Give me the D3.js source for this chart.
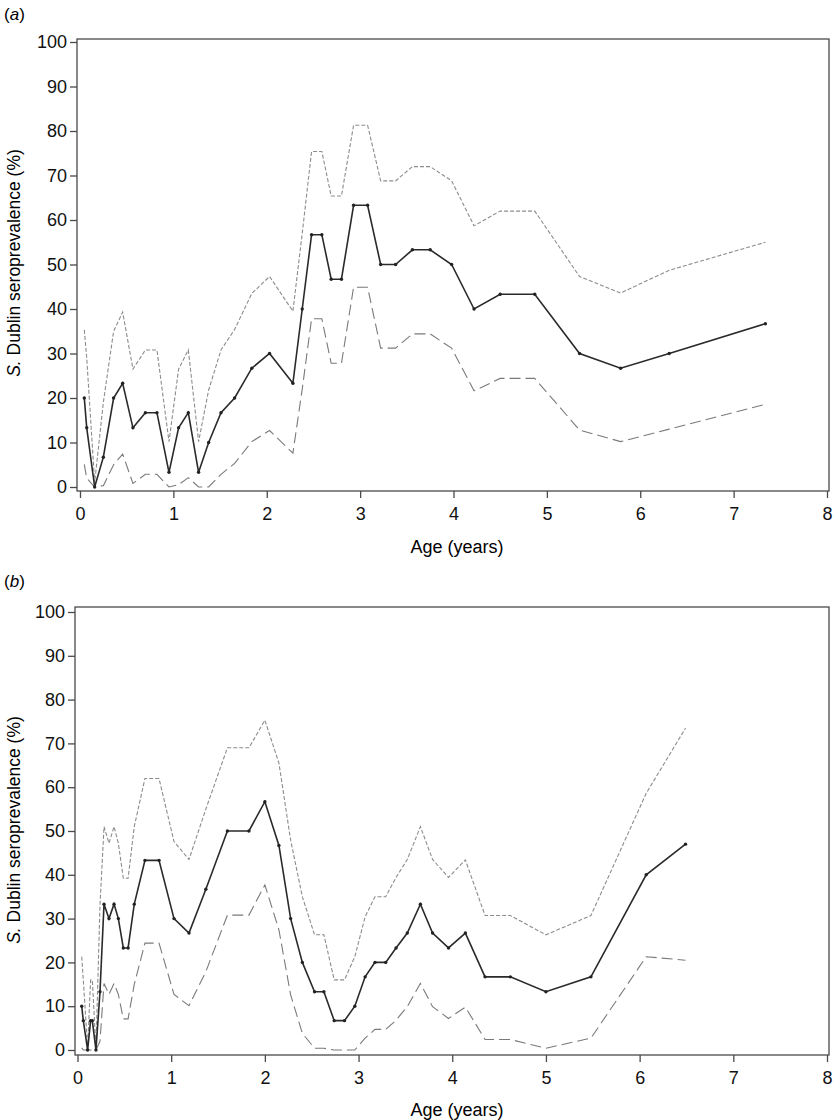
<!DOCTYPE html>
<html>
<head>
<meta charset="utf-8">
<script src="https://cdn.jsdelivr.net/npm/d3@7"></script>
<style>
  body { margin: 0; background: #fff; }
  svg { font-family: "Liberation Sans", Arial, sans-serif; }
</style>
</head>
<body>
<script>
// Panel (a) data
const agesA  = [0.046,0.072,0.157,0.25,0.36,0.457,0.567,0.70,0.824,0.953,1.056,1.16,1.27,1.378,1.51,1.656,1.84,2.03,2.28,2.38,2.48,2.59,2.69,2.80,2.93,3.08,3.22,3.38,3.56,3.75,3.98,4.22,4.50,4.87,5.35,5.79,6.31,7.34];
const prevA  = [20,13.3,0,6.7,20,23.3,13.3,16.7,16.7,3.3,13.3,16.7,3.3,10,16.7,20,26.7,30,23.3,40,56.7,56.7,46.7,46.7,63.3,63.3,50,50,53.3,53.3,50,40,43.3,43.3,30,26.7,30,36.7];
const upperA = [35.3,29,1,19,35,39.3,26.5,30.8,30.8,10.2,26.5,30.8,10.2,21.8,30.8,35.4,43.5,47.3,39.5,57,75.4,75.4,65.4,65.4,81.3,81.3,68.8,68.8,72,72,68.8,58.7,62,62,47.3,43.6,48.7,55];
const lowerA = [5.1,2,0,0.3,5,7.4,0.8,2.85,2.85,0,0.5,2.1,0,0,2.85,5.3,10.2,12.7,7.6,22,37.8,37.8,27.8,27.8,44.9,44.9,31.2,31.2,34.4,34.4,31.2,21.6,24.4,24.4,12.8,10.2,13,18.6];

// Panel (b) data
const agesB  = [0.045,0.062,0.108,0.14,0.158,0.197,0.24,0.283,0.336,0.39,0.436,0.489,0.54,0.606,0.72,0.87,1.03,1.19,1.37,1.60,1.83,2.00,2.15,2.275,2.40,2.53,2.63,2.74,2.85,2.96,3.07,3.175,3.29,3.40,3.52,3.66,3.79,3.96,4.14,4.35,4.62,5.00,5.48,6.07,6.49];
const prevB  = [10,6.7,0,6.7,6.7,0,13.3,33.3,30,33.3,30,23.3,23.3,33.3,43.3,43.3,30,26.7,36.7,50,50,56.7,46.7,30,20,13.3,13.3,6.7,6.7,10,16.7,20,20,23.3,26.7,33.3,26.7,23.3,26.7,16.7,16.7,13.3,16.7,40,47];
const upperB = [21.3,16,0.5,16,16,0.5,33,51,47.2,51,47.2,39.2,39.2,51,62,62,47.6,43.5,55,69,69,75.3,65.5,47.9,35,26.3,26.3,16,16,21.3,30.4,35,35,39.4,43.5,51,43.5,39.4,43.4,30.7,30.7,26.3,30.7,58.6,73.5];
const lowerB = [0.5,0,0,0,0,0,2,15.2,12.7,15.2,12.7,7.1,7.1,15,24.4,24.4,12.7,10.1,17.9,30.8,30.8,37.7,27.4,12.6,3.8,0.4,0.4,0,0,0,2.7,4.7,4.7,6.8,9.9,15.2,9.9,7.2,9.8,2.4,2.4,0.4,2.7,21.3,20.5];

const xTicks = [0,1,2,3,4,5,6,7,8];
const yTicks = [0,10,20,30,40,50,60,70,80,90,100];

const svg = d3.select("body").append("svg")
    .attr("width", 840)
    .attr("height", 1120);

function drawPanel(p) {
    const x = d3.scaleLinear().domain([0, 8]).range([p.x0, p.x8]);
    const y = d3.scaleLinear().domain([0, 100]).range([p.y0, p.y100]);

    // panel letter
    const lab = svg.append("text")
        .attr("x", 4).attr("y", p.labelY)
        .style("font-size", "17px");
    lab.append("tspan").text("(");
    lab.append("tspan").style("font-style", "italic").text(p.letter);
    lab.append("tspan").text(")");

    // frame
    svg.append("rect")
        .attr("x", p.left).attr("y", p.top)
        .attr("width", p.right - p.left).attr("height", p.bottom - p.top)
        .attr("fill", "none").attr("stroke", "#4a4a4a").attr("stroke-width", 1.3);

    // axes
    const yAxis = svg.append("g")
        .attr("transform", `translate(${p.left},0)`)
        .call(d3.axisLeft(y).tickValues(yTicks).tickSize(7).tickPadding(3));
    const xAxis = svg.append("g")
        .attr("transform", `translate(0,${p.bottom})`)
        .call(d3.axisBottom(x).tickValues(xTicks).tickSize(7).tickPadding(9));
    [xAxis, yAxis].forEach(a => {
        a.select(".domain").remove();
        a.selectAll("line").attr("stroke", "#4a4a4a").attr("stroke-width", 1.3);
        a.selectAll("text").style("font-size", "18px").style("font-family", "Liberation Sans, Arial, sans-serif").attr("fill", "#111");
    });

    // axis titles
    svg.append("text")
        .attr("x", 457).attr("y", p.xTitleY)
        .attr("text-anchor", "middle")
        .style("font-size", "18px")
        .text("Age (years)");

    const yt = svg.append("text")
        .attr("transform", `translate(20,${p.yTitleC}) rotate(-90)`)
        .attr("text-anchor", "middle")
        .style("font-size", "17.5px");
    yt.append("tspan").style("font-style", "italic").text("S.");
    yt.append("tspan").text(" Dublin seroprevalence (%)");

    const line = d3.line().x(d => x(d[0])).y(d => y(d[1]));

    svg.append("path")
        .datum(p.ages.map((a, i) => [a, p.upper[i]]))
        .attr("d", line)
        .attr("fill", "none").attr("stroke", "#8c8c8c")
        .attr("stroke-width", 1.1).attr("stroke-dasharray", "4,2");

    svg.append("path")
        .datum(p.ages.map((a, i) => [a, p.lower[i]]))
        .attr("d", line)
        .attr("fill", "none").attr("stroke", "#7a7a7a")
        .attr("stroke-width", 1.1).attr("stroke-dasharray", "11,5");

    const main = p.ages.map((a, i) => [a, p.prev[i]]);
    svg.append("path")
        .datum(main)
        .attr("d", line)
        .attr("fill", "none").attr("stroke", "#2a2a2a")
        .attr("stroke-width", 1.6);

    svg.append("g").selectAll("circle")
        .data(main)
        .enter()
        .append("circle")
        .attr("cx", d => x(d[0]))
        .attr("cy", d => y(d[1]))
        .attr("r", 1.7)
        .attr("fill", "#222");
}

drawPanel({
    letter: "a", labelY: 20,
    left: 77, right: 829, top: 39, bottom: 491,
    x0: 80, x8: 827, y0: 487, y100: 42,
    xTitleY: 553, yTitleC: 263,
    ages: agesA, prev: prevA, upper: upperA, lower: lowerA
});

drawPanel({
    letter: "b", labelY: 587,
    left: 75, right: 829, top: 607, bottom: 1055,
    x0: 77.5, x8: 827, y0: 1050, y100: 612,
    xTitleY: 1116, yTitleC: 830,
    ages: agesB, prev: prevB, upper: upperB, lower: lowerB
});
</script>
</body>
</html>
